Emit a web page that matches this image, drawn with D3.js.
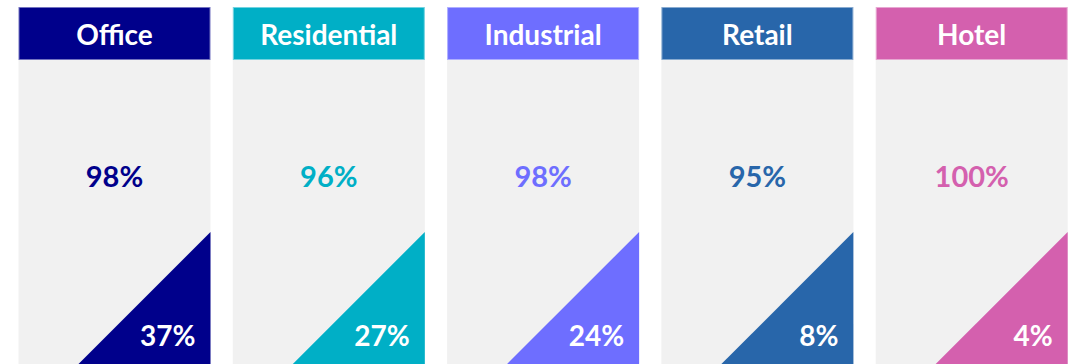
<!DOCTYPE html>
<html>
<head>
<meta charset="utf-8">
<script src="https://cdn.jsdelivr.net/npm/d3@7"></script>
<style>
  html, body { margin: 0; padding: 0; background: #ffffff; }
  svg { display: block; }
  text { font-family: "Lato", "Open Sans", sans-serif; font-weight: 700; }
</style>
</head>
<body>
<div id="chart"></div>
<script>
// Occupancy by property sector: headline rate and the share shown in the corner badge
const categories = ["Office", "Residential", "Industrial", "Retail", "Hotel"];
const mainValues = [98, 96, 98, 95, 100];
const cornerValues = [37, 27, 24, 8, 4];
const colors = ["#00008B", "#00AFC6", "#6E6EFF", "#2866AA", "#D460AE"];

const width = 1071, height = 364;
const panelWidth = 192;
const headerTop = 7, headerHeight = 53;
const cornerSize = 132;

const svg = d3.select("#chart").append("svg")
  .attr("width", width)
  .attr("height", height);

const step = 214.3;
const x = d3.scaleBand()
  .domain(categories)
  .range([18.5, 18.5 + step * (categories.length - 1) + panelWidth])
  .paddingInner(1 - panelWidth / step)
  .paddingOuter(0);

const color = d3.scaleOrdinal().domain(categories).range(colors);
const pct = d => d + "%";

const rows = categories.map((c, i) => ({ cat: c, main: mainValues[i], corner: cornerValues[i] }));

const panel = svg.selectAll("g.panel")
  .data(rows)
  .join("g")
  .attr("class", "panel")
  .attr("transform", d => `translate(${x(d.cat)},0)`);

const bw = x.bandwidth();

// light grey body
panel.append("rect")
  .attr("x", 0)
  .attr("y", headerTop + headerHeight)
  .attr("width", bw)
  .attr("height", height - headerTop - headerHeight)
  .attr("fill", "#F1F1F1");

// coloured header
panel.append("rect")
  .attr("x", 0.5)
  .attr("y", headerTop + 0.5)
  .attr("width", bw - 1)
  .attr("height", headerHeight - 1)
  .attr("fill", d => color(d.cat))
  .attr("stroke", d => d3.interpolateRgb(color(d.cat), "#ffffff")(0.45))
  .attr("stroke-width", 1);

panel.append("text")
  .attr("x", bw / 2)
  .attr("y", headerTop + 38)
  .attr("text-anchor", "middle")
  .attr("fill", "#ffffff")
  .attr("font-size", 28)
  .text(d => d.cat);

// headline percentage
panel.append("text")
  .attr("x", bw / 2)
  .attr("y", headerTop + 180)
  .attr("text-anchor", "middle")
  .attr("fill", d => color(d.cat))
  .attr("font-size", 29)
  .text(d => pct(d.main));

// corner triangle badge
panel.append("path")
  .attr("d", `M${bw},${height} L${bw},${height - cornerSize} L${bw - cornerSize},${height} Z`)
  .attr("fill", d => color(d.cat));

panel.append("text")
  .attr("x", bw - 15)
  .attr("y", headerTop + 339)
  .attr("text-anchor", "end")
  .attr("fill", "#ffffff")
  .attr("font-size", 28)
  .text(d => pct(d.corner));
</script>
</body>
</html>
